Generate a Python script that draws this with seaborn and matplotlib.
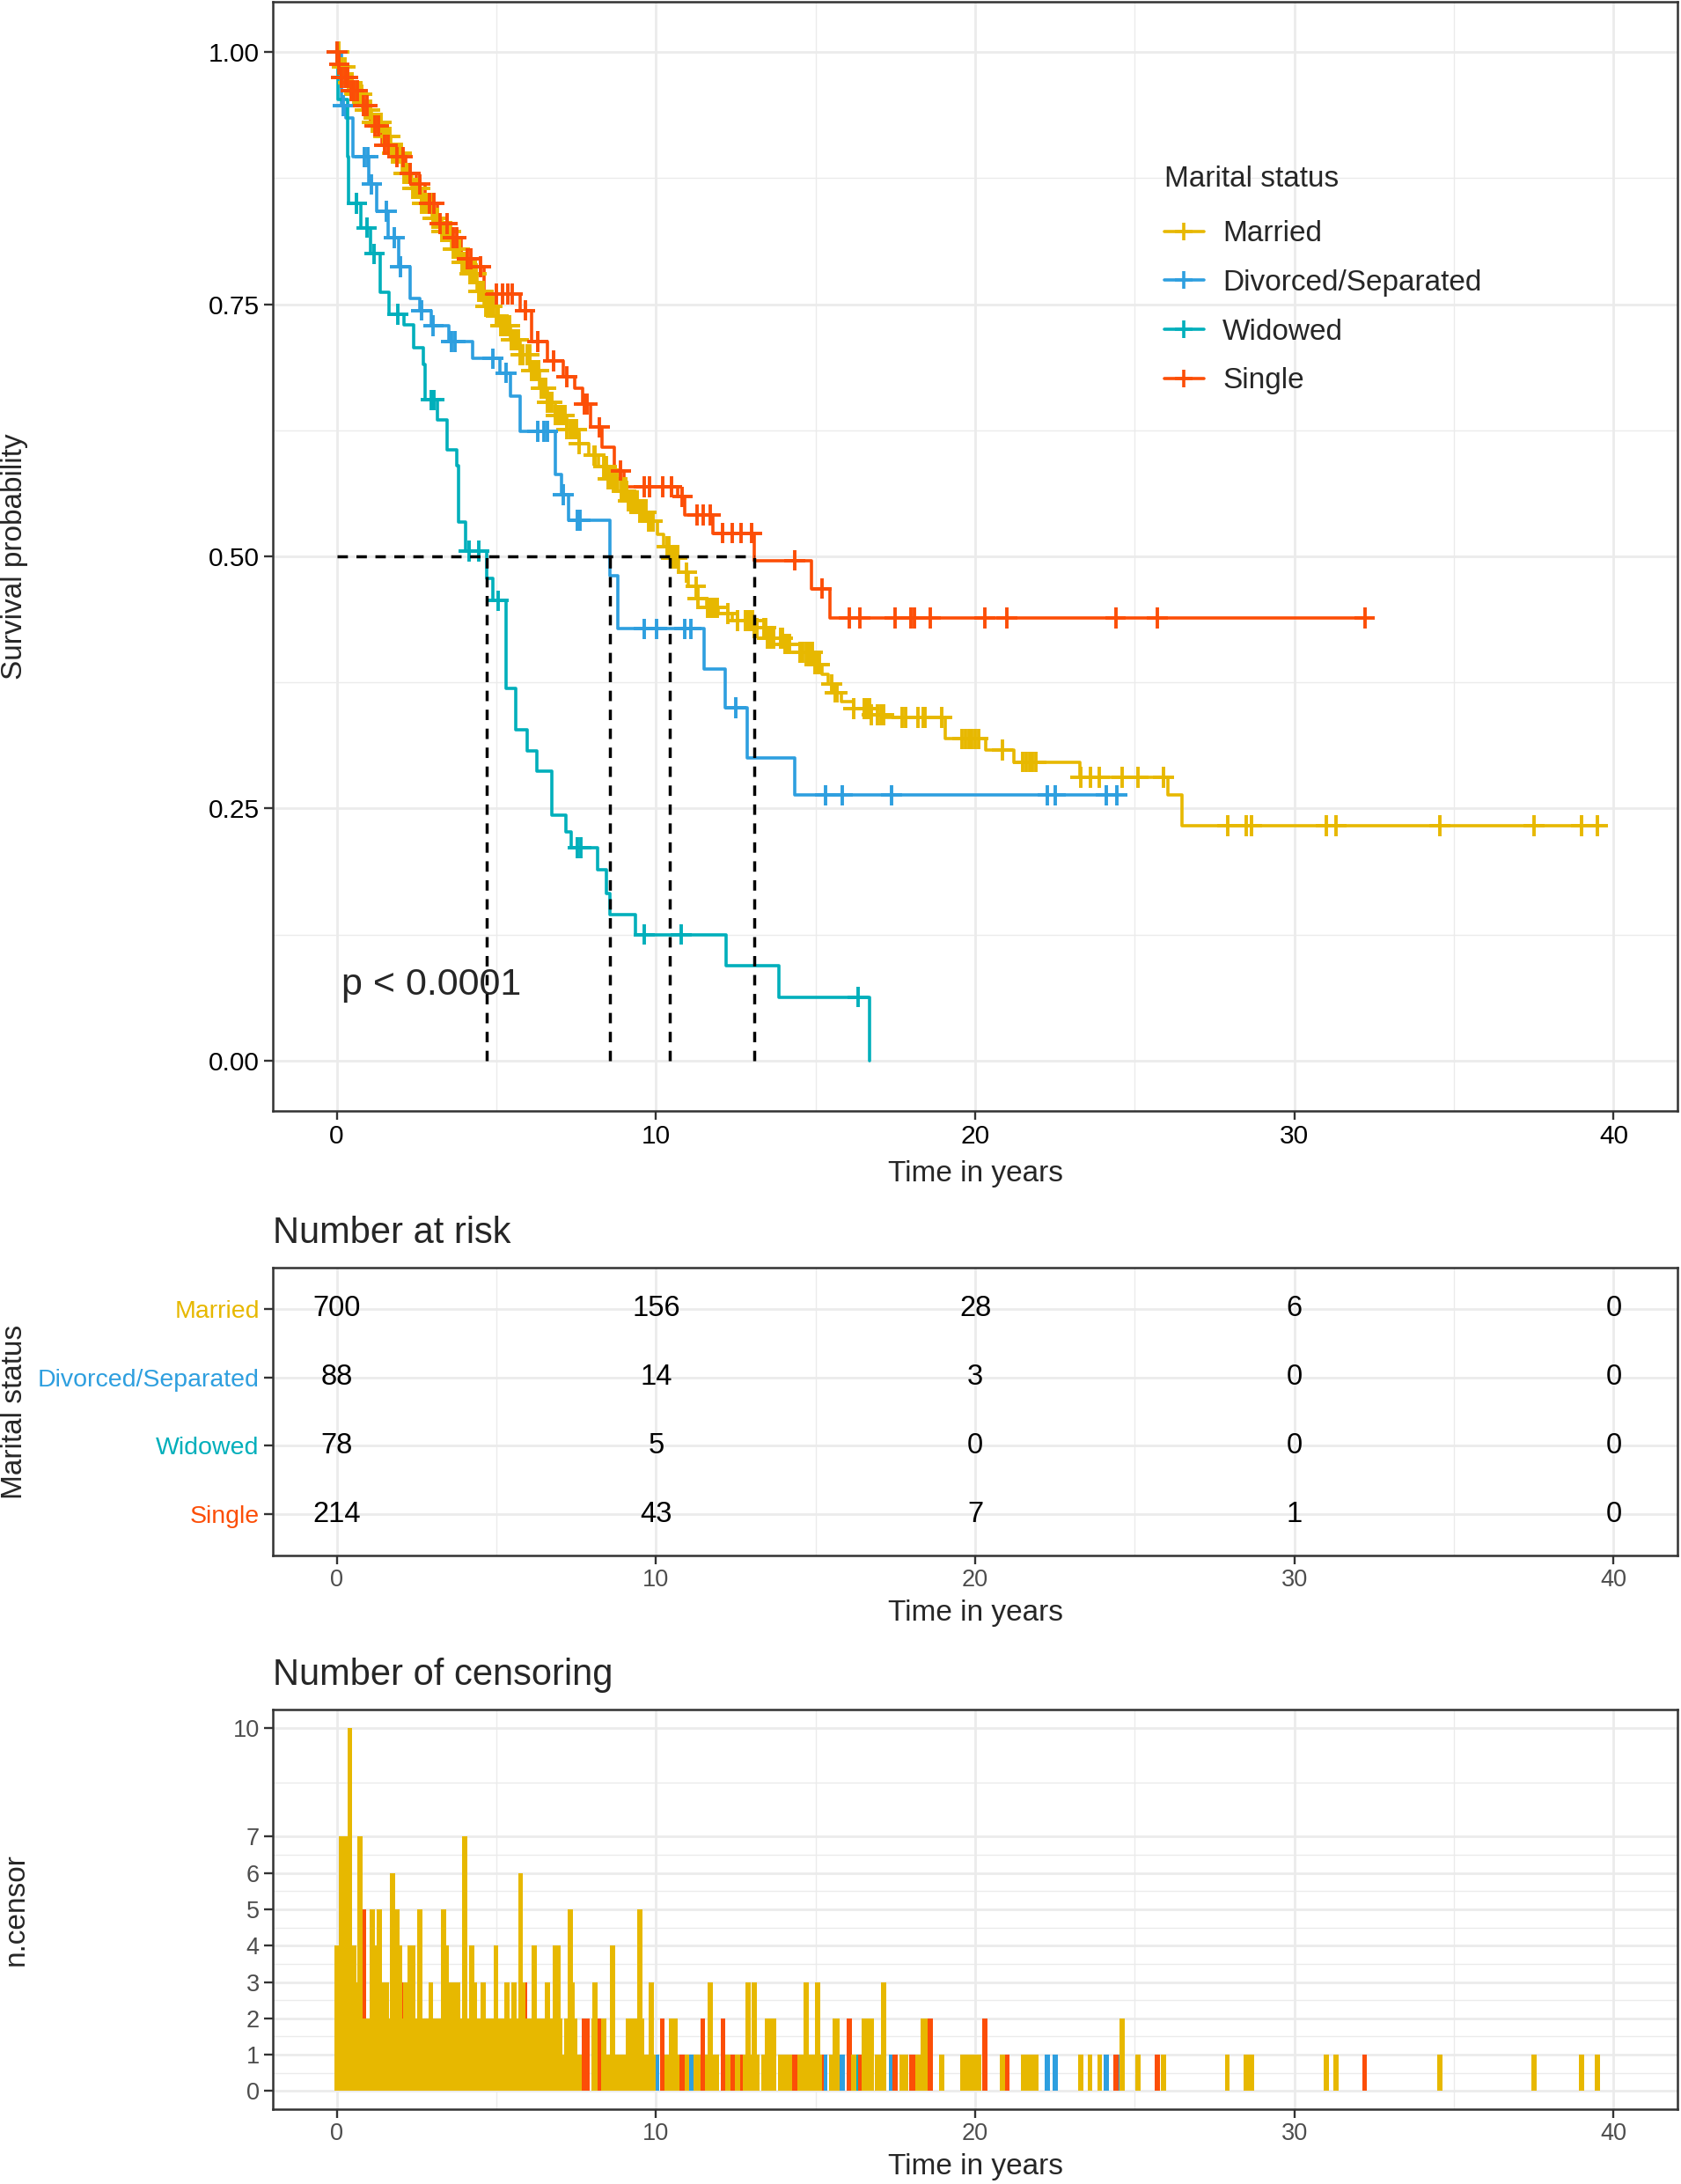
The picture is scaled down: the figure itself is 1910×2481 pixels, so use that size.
import numpy as np
import pandas as pd
import matplotlib
matplotlib.use("Agg")
import matplotlib.pyplot as plt
from matplotlib.lines import Line2D
import seaborn as sns

# ---------------- data ----------------
groups = ["Married", "Divorced/Separated", "Widowed", "Single"]
colors = ["#E7B800", "#2E9FDF", "#00AFBB", "#FC4E07"]

# Kaplan-Meier steps: time of drop, survival after the drop
married_t = [0.1, 0.3, 0.5, 0.8, 1.1, 1.43, 1.7, 2.04, 2.35, 2.66, 3.0, 3.28, 3.6, 3.9, 4.14, 4.4,
             4.63, 4.9, 5.12, 5.45, 5.74, 6.05, 6.35, 6.6, 6.85, 7.2, 7.59, 7.9, 8.2, 8.5, 8.82, 9.1,
             9.43, 9.75, 10.05, 10.25, 10.42, 10.7, 11.0, 11.3, 11.6, 11.94, 12.4, 13.05, 13.5, 14.0,
             14.5, 14.95, 15.2, 15.4, 15.6, 15.8, 16.2, 16.7, 17.2, 19.07, 20.33, 21.2, 23.27, 26.03, 26.47]
married_s = [0.985, 0.97, 0.958, 0.943, 0.93, 0.916, 0.9, 0.88, 0.865, 0.85, 0.835, 0.822, 0.805, 0.792,
             0.78, 0.763, 0.748, 0.738, 0.729, 0.715, 0.70, 0.684, 0.667, 0.653, 0.64, 0.626, 0.612, 0.60,
             0.589, 0.577, 0.565, 0.555, 0.544, 0.535, 0.522, 0.51, 0.498, 0.484, 0.47, 0.458, 0.449, 0.443,
             0.436, 0.429, 0.419, 0.413, 0.405, 0.393, 0.383, 0.373, 0.365, 0.356, 0.349, 0.343, 0.34,
             0.319, 0.308, 0.296, 0.281, 0.263, 0.233]
married_end = 39.5

divorced_t = [0.15, 0.3, 0.5, 1.0, 1.25, 1.6, 1.95, 2.3, 2.6, 2.95, 3.5, 4.26, 5.1, 5.45, 5.75, 6.85,
              7.05, 7.25, 8.55, 8.8, 11.5, 12.18, 12.86, 14.35]
divorced_s = [0.947, 0.935, 0.896, 0.869, 0.842, 0.816, 0.787, 0.756, 0.744, 0.729, 0.713, 0.696, 0.682,
              0.659, 0.624, 0.581, 0.561, 0.536, 0.481, 0.428, 0.388, 0.350, 0.30, 0.263]
divorced_end = 24.45

widowed_t = [0.05, 0.34, 0.38, 0.75, 1.05, 1.37, 1.65, 2.1, 2.41, 2.72, 2.78, 3.15, 3.46, 3.77, 3.83,
             4.05, 4.7, 4.9, 5.3, 5.6, 5.96, 6.26, 6.75, 7.17, 7.35, 8.18, 8.46, 8.57, 9.35, 12.2, 13.85, 16.7]
widowed_s = [0.953, 0.896, 0.85, 0.826, 0.80, 0.762, 0.74, 0.73, 0.707, 0.69, 0.655, 0.635, 0.606, 0.59,
             0.534, 0.505, 0.478, 0.456, 0.369, 0.328, 0.307, 0.287, 0.243, 0.227, 0.211, 0.189, 0.166,
             0.145, 0.125, 0.094, 0.063, 0.0]
widowed_end = 16.7

single_t = [0.05, 0.15, 0.38, 0.69, 1.06, 1.43, 1.8, 2.17, 2.48, 2.78, 3.15, 3.52, 3.89, 4.26, 4.63, 5.74,
            6.1, 6.6, 7.09, 7.46, 7.7, 7.96, 8.32, 8.69, 9.0, 10.67, 10.91, 11.78, 13.08, 14.87, 15.46]
single_s = [0.988, 0.975, 0.962, 0.947, 0.927, 0.908, 0.896, 0.88, 0.869, 0.85, 0.83, 0.816, 0.795, 0.787,
            0.76, 0.744, 0.713, 0.694, 0.678, 0.667, 0.651, 0.628, 0.608, 0.585, 0.569, 0.559, 0.541,
            0.523, 0.496, 0.468, 0.439]
single_end = 32.2

# censoring times and number censored at each time
married_cens_t = [0.00, 0.08, 0.16, 0.26, 0.36, 0.41, 0.48, 0.55, 0.62, 0.72, 0.78, 0.90, 0.98, 1.05, 1.12,
                  1.20, 1.26, 1.33, 1.40, 1.47, 1.55, 1.62, 1.68, 1.75, 1.82, 1.89, 1.96, 2.03, 2.10, 2.17,
                  2.24, 2.31, 2.38, 2.45, 2.52, 2.60, 2.67, 2.74, 2.81, 2.88, 2.95, 3.02, 3.09, 3.16, 3.28,
                  3.35, 3.42, 3.50, 3.57, 3.64, 3.71, 3.78, 3.85, 3.92, 4.00, 4.07, 4.17, 4.24, 4.31, 4.38,
                  4.45, 4.52, 4.60, 4.67, 4.74, 4.81, 4.88, 4.99, 5.06, 5.13, 5.20, 5.27, 5.34, 5.41, 5.48,
                  5.55, 5.62, 5.69, 5.76, 5.83, 5.97, 6.04, 6.11, 6.19, 6.26, 6.33, 6.40, 6.47, 6.54, 6.61,
                  6.68, 6.75, 6.86, 6.93, 7.00, 7.07, 7.14, 7.21, 7.31, 7.38, 7.45, 7.52, 7.59, 8.06, 8.10,
                  8.37, 8.44, 8.51, 8.58, 8.65, 8.72, 8.79, 8.93, 9.00, 9.07, 9.14, 9.21, 9.28, 9.35, 9.42,
                  9.49, 9.56, 9.63, 9.70, 9.77, 9.85, 9.90, 10.34, 10.41, 10.48, 10.55, 10.60, 10.67, 10.97,
                  11.25, 11.32, 11.62, 11.70, 11.77, 11.84, 11.91, 12.25, 12.55, 12.81, 12.88, 12.95, 13.02,
                  13.09, 13.16, 13.37, 13.44, 13.50, 13.57, 13.64, 13.70, 13.90, 13.97, 14.04, 14.11, 14.18,
                  14.52, 14.60, 14.70, 14.77, 14.84, 14.91, 14.98, 15.06, 15.13, 15.50, 15.62, 15.68, 16.20,
                  16.52, 16.60, 16.68, 16.76, 16.95, 17.05, 17.13, 17.70, 17.82, 18.20, 18.37, 18.43, 18.95,
                  19.60, 19.70, 19.80, 19.90, 20.00, 20.10, 20.85, 21.50, 21.60, 21.70, 21.80, 21.90, 23.30,
                  23.60, 23.90, 24.60, 25.10, 25.90, 27.90, 28.50, 28.65, 31.00, 31.30, 34.55, 37.50, 39.00,
                  39.50]
married_cens_n = [4, 2, 7, 7, 7, 10, 4, 4, 3, 7, 2, 2, 2, 1, 5,
                  4, 2, 5, 2, 3, 3, 2, 2, 6, 4, 5, 4, 2, 1, 3,
                  3, 4, 4, 2, 2, 5, 2, 2, 2, 2, 3, 1, 2, 2, 2,
                  5, 4, 2, 3, 3, 3, 3, 2, 1, 7, 2, 2, 4, 3, 2,
                  2, 2, 3, 2, 2, 2, 2, 4, 2, 2, 2, 2, 3, 2, 1,
                  3, 2, 2, 6, 3, 2, 2, 2, 4, 2, 2, 1, 2, 2, 3,
                  1, 2, 4, 4, 2, 1, 1, 2, 5, 3, 2, 1, 1, 2, 3,
                  2, 1, 1, 1, 4, 1, 1, 1, 1, 1, 2, 2, 2, 2, 1,
                  5, 2, 1, 1, 1, 3, 1, 1, 1, 2, 1, 2, 1, 1,
                  1, 1, 1, 3, 1, 1, 1, 1, 1, 1, 3, 1, 1,
                  3, 1, 1, 1, 2, 2, 2, 2, 1, 1, 1, 1, 1,
                  1, 1, 3, 1, 1, 1, 1, 3, 1, 1, 2, 2, 1,
                  2, 2, 2, 2, 1, 1, 3, 1, 1, 1, 2, 2, 1,
                  1, 1, 1, 1, 1, 1, 1, 1, 1, 1, 1, 1, 1,
                  1, 1, 2, 1, 1, 1, 1, 1, 1, 1, 1, 1, 1,
                  1]

divorced_cens_t = [0.0, 0.2, 0.88, 0.98, 1.1, 1.55, 1.8, 2.0, 2.66, 3.03, 3.6, 3.7, 4.9, 5.3, 6.3, 6.5,
                   6.6, 7.1, 7.55, 7.62, 9.64, 10.03, 10.9, 11.1, 12.5, 15.3, 15.83, 17.38, 22.27, 22.5,
                   24.1, 24.45]
divorced_cens_n = [1] * 32

widowed_cens_t = [0.02, 0.63, 0.94, 1.18, 1.92, 2.95, 3.05, 4.14, 4.45, 5.06, 7.55, 7.66, 9.63, 10.8, 16.33]
widowed_cens_n = [1, 1, 1, 1, 1, 1, 1, 1, 1, 1, 1, 1, 1, 1, 1]

single_cens_t = [0.02, 0.08, 0.15, 0.25, 0.35, 0.45, 0.55, 0.65, 0.84, 0.95, 1.2, 1.3, 1.5, 1.6, 1.9, 2.07,
                 2.3, 2.6, 2.9, 3.05, 3.23, 3.45, 3.65, 3.75, 4.1, 4.2, 4.5, 5.0, 5.2, 5.35, 5.5, 5.9, 6.3,
                 6.8, 7.2, 7.75, 7.85, 8.23, 8.9, 9.64, 9.8, 10.2, 10.5, 10.83, 11.3, 11.47, 11.7, 12.1,
                 12.4, 12.67, 13.0, 14.35, 15.19, 16.05, 16.4, 17.5, 18.0, 18.1, 18.6, 20.3, 21.0, 24.4,
                 25.7, 32.2]
single_cens_n = [1, 1, 1, 1, 1, 1, 1, 1, 5, 1, 1, 1, 1, 1, 1, 3,
                 1, 1, 1, 1, 2, 1, 1, 1, 2, 1, 1, 1, 1, 1, 1, 3, 1,
                 1, 1, 2, 2, 2, 1, 1, 1, 2, 1, 1, 1, 2, 1, 2,
                 1, 1, 1, 1, 1, 2, 1, 1, 1, 1, 2, 2, 1, 1,
                 1, 1]

# number at risk table
risk_times = [0, 10, 20, 30, 40]
married_risk = [700, 156, 28, 6, 0]
divorced_risk = [88, 14, 3, 0, 0]
widowed_risk = [78, 5, 0, 0, 0]
single_risk = [214, 43, 7, 1, 0]

# ---------------- assemble ----------------
steps = [(married_t, married_s, married_end), (divorced_t, divorced_s, divorced_end),
         (widowed_t, widowed_s, widowed_end), (single_t, single_s, single_end)]
cens = [(married_cens_t, married_cens_n), (divorced_cens_t, divorced_cens_n),
        (widowed_cens_t, widowed_cens_n), (single_cens_t, single_cens_n)]
risks = [married_risk, divorced_risk, widowed_risk, single_risk]

curve_rows, cens_rows = [], []
step_funcs = {}
for g, (t, s, end) in zip(groups, steps):
    times = [0.0] + list(t)
    surv = [1.0] + list(s)
    if end > times[-1]:
        times.append(end)
        surv.append(surv[-1])
    step_funcs[g] = (np.array(times), np.array(surv))
    for ti, si in zip(times, surv):
        curve_rows.append((g, ti, si))
curve_df = pd.DataFrame(curve_rows, columns=["group", "time", "surv"])

for g, (ct, cn) in zip(groups, cens):
    tt, ss = step_funcs[g]
    for ti, ni in zip(ct, cn):
        idx = np.searchsorted(tt, ti, side="right") - 1
        cens_rows.append((g, ti, ss[idx], ni))
cens_df = pd.DataFrame(cens_rows, columns=["group", "time", "surv", "n"])

medians = []
for g in groups:
    tt, ss = step_funcs[g]
    below = np.where(ss <= 0.5)[0]
    medians.append(tt[below[0]])

# ---------------- style ----------------
sns.set_style("white")
plt.rcParams["font.family"] = ["Liberation Sans", "DejaVu Sans"]

W, H = 1910, 2481
fig = plt.figure(figsize=(W / 100, H / 100), dpi=100)
ax1 = fig.add_axes([310 / W, 1 - 1262 / H, 1596 / W, 1260 / H])
ax2 = fig.add_axes([310 / W, 1 - 1767 / H, 1596 / W, 327 / H])
ax3 = fig.add_axes([310 / W, 1 - 2396 / H, 1596 / W, 454 / H])

GRID = "#EBEBEB"
BORDER = "#333333"


def style_axes(ax, tick_color, tick_size):
    for sp in ax.spines.values():
        sp.set_color(BORDER)
        sp.set_linewidth(1.8)
        sp.set_visible(True)
    ax.set_axisbelow(True)
    ax.grid(which="major", color=GRID, linewidth=2.0)
    ax.grid(which="minor", color=GRID, linewidth=1.0)
    ax.tick_params(which="major", length=7, width=1.7, color=BORDER,
                   labelsize=tick_size, labelcolor=tick_color, pad=4, left=True, bottom=True)
    ax.tick_params(which="minor", length=0)
    ax.set_xlim(-2, 42)
    ax.set_xticks([0, 10, 20, 30, 40])
    ax.set_xticks([5, 15, 25, 35], minor=True)


# ---------------- top: survival curves ----------------
palette = dict(zip(groups, colors))
sns.lineplot(data=curve_df, x="time", y="surv", hue="group", hue_order=groups, palette=palette,
             drawstyle="steps-post", estimator=None, sort=False, linewidth=2.6, legend=False, ax=ax1)
sns.scatterplot(data=cens_df, x="time", y="surv", hue="group", hue_order=groups, palette=palette,
                marker="+", s=290, linewidth=2.8, legend=False, ax=ax1, zorder=3)

mx = max(medians)
dash = (0, (3.4, 2.8))
ax1.plot([0, mx], [0.5, 0.5], color="black", linestyle=dash, linewidth=2.5, zorder=4)
for m in medians:
    ax1.plot([m, m], [0, 0.5], color="black", linestyle=dash, linewidth=2.5, zorder=4)

style_axes(ax1, "black", 21.5)
ax1.set_ylim(-0.05, 1.05)
ax1.set_yticks([0, 0.25, 0.5, 0.75, 1.0])
ax1.set_yticklabels(["0.00", "0.25", "0.50", "0.75", "1.00"])
ax1.set_yticks([0.125, 0.375, 0.625, 0.875], minor=True)
ax1.set_xlabel("Time in years", fontsize=24, labelpad=9)
ax1.set_ylabel("Survival probability", fontsize=24, va="center")
ax1.yaxis.set_label_coords(-0.184, 0.5)
ax1.text(0.14, 0.065, "p < 0.0001", fontsize=31, ha="left", va="baseline")

handles = [Line2D([0], [0], color=c, linewidth=2.6, marker="+", markersize=15, markeredgewidth=2.6)
           for c in colors]
leg = ax1.legend(handles, groups, title="Marital status", loc="upper left",
                 bbox_to_anchor=(0.624, 0.866), frameon=False, fontsize=24, title_fontsize=24,
                 handlelength=1.35, handletextpad=0.65, labelspacing=0.74, borderpad=0,
                 alignment="left")
leg._legend_box.sep = 23

# ---------------- middle: number at risk ----------------
for i, (g, r) in enumerate(zip(groups, risks)):
    for t, n in zip(risk_times, r):
        ax2.text(t, i, str(n), ha="center", va="center", fontsize=23.5, color="black")
style_axes(ax2, "#4D4D4D", 19.5)
ax2.set_ylim(3.6, -0.6)
ax2.set_yticks(range(len(groups)))
ax2.set_yticklabels(groups, fontsize=20.5)
for lab, c in zip(ax2.get_yticklabels(), colors):
    lab.set_color(c)
ax2.grid(which="major", axis="y", color=GRID, linewidth=2.0)
ax2.set_xlabel("Time in years", fontsize=24, labelpad=6)
ax2.set_ylabel("Marital status", fontsize=24, va="center")
ax2.yaxis.set_label_coords(-0.184, 0.5)
ax2.set_title("Number at risk", loc="left", fontsize=30, pad=20)

# ---------------- bottom: number of censoring ----------------
draw_order = [1, 2, 3, 0]
for k in draw_order:
    sub = cens_df[cens_df["group"] == groups[k]]
    ax3.bar(sub["time"], sub["n"], width=0.16, color=colors[k], linewidth=0, zorder=2)
style_axes(ax3, "#4D4D4D", 19.5)
ax3.set_ylim(-0.5, 10.5)
ax3.set_yticks([0, 1, 2, 3, 4, 5, 6, 7, 10])
ax3.set_yticks([0.5, 1.5, 2.5, 3.5, 4.5, 5.5, 6.5, 8.5], minor=True)
ax3.set_xlabel("Time in years", fontsize=24, labelpad=6)
ax3.set_ylabel("n.censor", fontsize=24, va="center")
ax3.yaxis.set_label_coords(-0.183, 0.5)
ax3.set_title("Number of censoring", loc="left", fontsize=30, pad=20)

fig.savefig("out.png", dpi=100)
